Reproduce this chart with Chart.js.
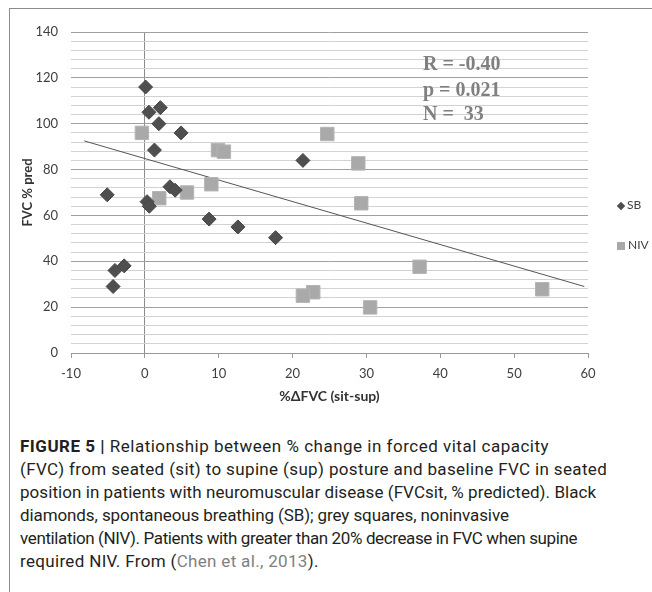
<!DOCTYPE html>
<html>
<head>
<meta charset="utf-8">
<script src="https://cdn.jsdelivr.net/npm/chart.js@4.4.1/dist/chart.umd.min.js"></script>
<style>
  body { margin: 0; background: #fff; width: 652px; height: 592px; overflow: hidden; position: relative; }
  #frame { position: absolute; left: 9px; top: 8px; width: 643px; height: 584px; border-left: 1px solid #8c8c8c; border-top: 1px solid #8c8c8c; }
  #wrap { position: absolute; left: 10px; top: 9px; width: 642px; height: 405px; }
  .stat { position: absolute; left: 423px; font: bold 20px "Liberation Serif", serif; color: #808080; line-height: 24px; white-space: nowrap; }
  .leg { position: absolute; left: 617px; font: 12px Lato, sans-serif; color: #404040; line-height: 14px; white-space: nowrap; }
  .leg i { display: inline-block; vertical-align: middle; margin-right: 3px; }
  .dia { width: 6px; height: 6px; background: #4f4f4f; transform: rotate(45deg); margin-left: 1px; }
  .sq { width: 8px; height: 8px; background: #a9a9a9; }
  #caption { position: absolute; left: 20px; top: 435px; font: 17px Roboto, sans-serif; color: #231f20; line-height: 23px; white-space: nowrap; }
  #caption b { font-weight: bold; }
  #caption .ref { color: #808080; }
</style>
</head>
<body>
<div id="frame"></div>
<div id="wrap"><canvas id="fvc-chart" width="642" height="405"></canvas></div>
<div class="stat" style="top:51px">R = -0.40</div>
<div class="stat" style="top:77px">p = 0.021</div>
<div class="stat" style="top:101px">N =&nbsp; 33</div>
<div class="leg" style="top:198px"><i class="dia"></i>SB</div>
<div class="leg" style="top:238px"><i class="sq"></i>NIV</div>
<div id="caption">
  <div style="letter-spacing:0.5px"><b>FIGURE 5 |</b> Relationship between % change in forced vital capacity</div>
  <div style="letter-spacing:0.36px">(FVC) from seated (sit) to supine (sup) posture and baseline FVC in seated</div>
  <div style="letter-spacing:0.06px">position in patients with neuromuscular disease (FVCsit, % predicted). Black</div>
  <div style="letter-spacing:-0.1px">diamonds, spontaneous breathing (SB); grey squares, noninvasive</div>
  <div style="letter-spacing:-0.38px">ventilation (NIV). Patients with greater than 20% decrease in FVC when supine</div>
  <div style="letter-spacing:0.33px">required NIV. From (<span class="ref">Chen et al., 2013</span>).</div>
</div>
<script>
// spontaneous breathing (black diamonds)
const sbX = [0.1, 0.55, 2.1, 1.9, 4.9, 1.3, 21.4, -5.1, 0.3, 0.6, 3.4, 4.1, 8.7, 12.6, 17.7, -4.3, -4.05, -2.8];
const sbY = [116, 105, 107, 100, 96, 88.5, 84, 69, 66, 64, 72.5, 71, 58.4, 55, 50.3, 29, 36, 38];

// noninvasive ventilation (grey squares)
const nivX = [-0.4, 9.9, 10.7, 1.95, 5.7, 9.0, 24.7, 28.9, 29.3, 37.2, 53.8, 30.5, 22.8, 21.4];
const nivY = [96, 88.5, 87.8, 67.5, 70, 73.6, 95.5, 82.7, 65.3, 37.6, 27.8, 19.9, 26.5, 25];

// linear fit
const trendX = [-8.2, 59.5];
const trendY = [92.5, 29];

const xTickLabels = [-10, 0, 10, 20, 30, 40, 50, 60];
const yTickLabels = [0, 20, 40, 60, 80, 100, 120, 140];

const toPoints = (xs, ys) => xs.map((x, i) => ({ x, y: ys[i] }));

const ctx = document.getElementById('fvc-chart').getContext('2d');
new Chart(ctx, {
  type: 'scatter',
  data: {
    datasets: [{
      label: 'SB',
      data: toPoints(sbX, sbY),
      pointStyle: 'rectRot',
      pointRadius: 7,
      backgroundColor: '#4f4f4f',
      borderColor: '#474747',
      borderWidth: 1,
      order: 1,
    }, {
      label: 'NIV',
      data: toPoints(nivX, nivY),
      pointStyle: 'rect',
      pointRadius: 9.5,
      backgroundColor: '#a9a9a9',
      borderColor: '#b4b4b4',
      borderWidth: 1,
      order: 2,
    }, {
      label: 'Fit',
      data: toPoints(trendX, trendY),
      showLine: true,
      borderColor: '#555',
      borderWidth: 1,
      pointRadius: 0,
      order: 3,
    }],
  },
  options: {
    responsive: false,
    animation: false,
    layout: { padding: { left: 5, right: 64, top: 23, bottom: 0 } },
    plugins: {
      legend: { display: false },
      tooltip: { enabled: false },
    },
    scales: {
      x: {
        type: 'linear',
        min: xTickLabels[0],
        max: xTickLabels[xTickLabels.length - 1],
        afterFit: (scale) => { scale.height = 61; },
        ticks: {
          stepSize: 10,
          color: '#404040',
          font: { family: 'Lato', size: 13 },
          padding: 8,
          callback: (v) => (xTickLabels.includes(Math.round(v)) ? v : ''),
        },
        grid: {
          color: (c) => (c.tick && Math.round(c.tick.value) === 0 ? '#8a8a8a' : 'rgba(0,0,0,0)'),
          tickColor: '#9a9a9a',
          tickLength: 5,
        },
        border: { color: '#9a9a9a' },
        title: {
          display: true,
          text: '%ΔFVC (sit-sup)',
          color: '#333',
          font: { family: 'Lato', size: 14, weight: 'bold' },
          padding: { top: 4, bottom: 9 },
        },
      },
      y: {
        min: yTickLabels[0],
        max: yTickLabels[yTickLabels.length - 1],
        afterFit: (scale) => { scale.width = 56; },
        ticks: {
          stepSize: 4,
          autoSkip: false,
          color: '#404040',
          font: { family: 'Lato', size: 13 },
          padding: 13,
          callback: (v) => (yTickLabels.includes(Math.round(v)) ? v : ''),
        },
        grid: {
          color: (c) => (c.tick && Math.round(c.tick.value) % 20 === 0 ? '#a0a0a0' : '#d2d2d2'),
          drawTicks: false,
        },
        border: { display: false },
        title: {
          display: true,
          text: 'FVC % pred',
          color: '#333',
          font: { family: 'Lato', size: 13, weight: 'bold' },
          padding: { top: 5, bottom: 4 },
        },
      },
    },
  },
});
</script>
</body>
</html>
